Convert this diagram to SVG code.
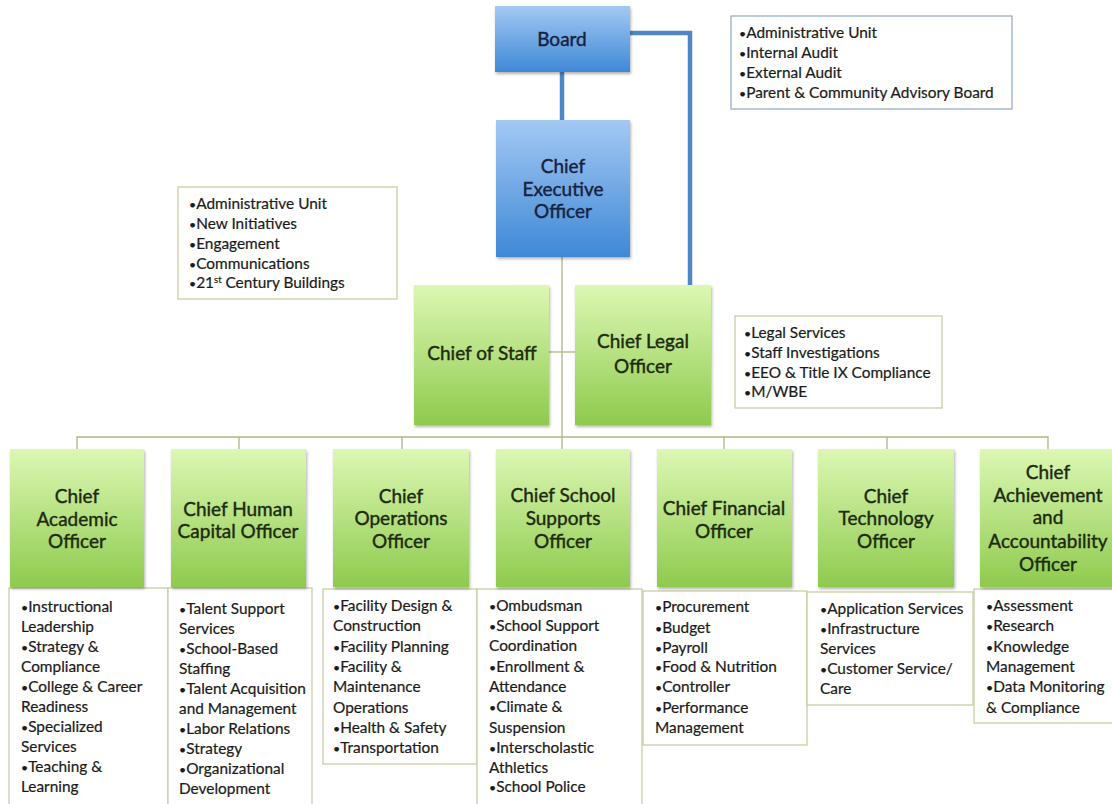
<svg xmlns="http://www.w3.org/2000/svg" width="1112" height="804" viewBox="0 0 1112 804">
  <defs>
    <linearGradient id="gBlue" x1="0" y1="0" x2="0" y2="1">
      <stop offset="0" stop-color="#a3c9f3"/>
      <stop offset="1" stop-color="#3f88d6"/>
    </linearGradient>
    <linearGradient id="gGreen" x1="0" y1="0" x2="0" y2="1">
      <stop offset="0" stop-color="#dcf8b4"/>
      <stop offset="1" stop-color="#8fca4e"/>
    </linearGradient>
    <filter id="shadow" x="-10%" y="-10%" width="125%" height="125%">
      <feDropShadow dx="1" dy="2" stdDeviation="1.5" flood-color="#000" flood-opacity="0.3"/>
    </filter>
    <style>
      .blue { fill: url(#gBlue); filter: url(#shadow); }
      .green { fill: url(#gGreen); filter: url(#shadow); }
      .title { font-family: Lato, "Liberation Sans", sans-serif; font-size: 19px; text-anchor: middle; stroke-width: 0.4; }
      .tb { fill: #16223e; stroke: #16223e; }
      .tg { fill: #1c2a0e; stroke: #1c2a0e; }
      .list { font-family: Lato, "Liberation Sans", sans-serif; font-size: 15.4px; fill: #1a1a1a; stroke: #1a1a1a; stroke-width: 0.2; }
      .note { font-family: Lato, "Liberation Sans", sans-serif; font-size: 15.4px; fill: #1a1a1a; stroke: #1a1a1a; stroke-width: 0.2; }
      .b { font-size: 0.8em; }
      .box { fill: #fff; stroke: #c3cb9f; stroke-width: 1.2; }
      .boxBlue { fill: #fff; stroke: #8ea7c2; stroke-width: 1.2; }
      .conn { fill: none; stroke: #aab882; stroke-width: 1.3; }
      .connBlue { fill: none; stroke: #4f86c6; stroke-width: 4.5; }
    </style>
  </defs>
  <rect width="1112" height="804" fill="#fff"/>

  <!-- connectors -->
  <g id="connectors">
    <path class="connBlue" d="M630,33 H690 V285"/>
    <path class="connBlue" d="M562,72 V120" stroke-width="3.5"/>
    <path class="conn" d="M562,257 V437"/>
    <path class="conn" d="M549,352 H575"/>
    <path class="conn" d="M77,449 V437 H1048 V449"/>
    <path class="conn" d="M239,437 V449 M402,437 V449 M562,437 V449 M724,437 V449 M887,437 V449"/>
  </g>

  <!-- top tier -->
  <g id="board">
    <rect class="blue" x="495" y="6" width="135" height="66"/>
    <text class="title tb" x="562" y="46">Board</text>
  </g>
  <g id="board-notes">
    <rect class="boxBlue" x="731" y="16" width="281" height="93"/>
    <text class="note" x="739" y="38"><tspan class="b">•</tspan>Administrative Unit</text>
    <text class="note" x="739" y="58"><tspan class="b">•</tspan>Internal Audit</text>
    <text class="note" x="739" y="78"><tspan class="b">•</tspan>External Audit</text>
    <text class="note" x="739" y="98"><tspan class="b">•</tspan>Parent &amp; Community Advisory Board</text>
  </g>
  <g id="ceo">
    <rect class="blue" x="496" y="120" width="134" height="137"/>
    <text class="title tb" x="563" y="173">Chief</text>
    <text class="title tb" x="563" y="196">Executive</text>
    <text class="title tb" x="563" y="218">Officer</text>
  </g>
  <g id="ceo-notes">
    <rect class="box" x="178" y="187" width="219" height="112"/>
    <text class="note" x="189" y="209"><tspan class="b">•</tspan>Administrative Unit</text>
    <text class="note" x="189" y="229"><tspan class="b">•</tspan>New Initiatives</text>
    <text class="note" x="189" y="249"><tspan class="b">•</tspan>Engagement</text>
    <text class="note" x="189" y="269"><tspan class="b">•</tspan>Communications</text>
    <text class="note" x="189" y="288"><tspan class="b">•</tspan>21<tspan font-size="9.5" dy="-5">st</tspan><tspan dy="5"> Century Buildings</tspan></text>
  </g>

  <!-- staff tier -->
  <g id="chief-of-staff">
    <rect class="green" x="414" y="285" width="135" height="140"/>
    <text class="title tg" x="482" y="360">Chief of Staff</text>
  </g>
  <g id="chief-legal">
    <rect class="green" x="575" y="285" width="136" height="140"/>
    <text class="title tg" x="643" y="348">Chief Legal</text>
    <text class="title tg" x="643" y="373">Officer</text>
  </g>
  <g id="legal-notes">
    <rect class="box" x="735" y="316" width="207" height="92"/>
    <text class="note" x="744" y="338"><tspan class="b">•</tspan>Legal Services</text>
    <text class="note" x="744" y="358"><tspan class="b">•</tspan>Staff Investigations</text>
    <text class="note" x="744" y="378"><tspan class="b">•</tspan>EEO &amp; Title IX Compliance</text>
    <text class="note" x="744" y="397"><tspan class="b">•</tspan>M/WBE</text>
  </g>

  <!-- department tier -->
  <g id="academic">
    <rect class="box" x="9" y="588" width="159" height="222"/>
    <rect class="green" x="10" y="449" width="134" height="138"/>
    <text class="title tg" x="77" y="503">Chief</text>
    <text class="title tg" x="77" y="526">Academic</text>
    <text class="title tg" x="77" y="548">Officer</text>
    <g class="list">
      <text x="21" y="612"><tspan class="b">•</tspan>Instructional</text>
      <text x="21" y="632">Leadership</text>
      <text x="21" y="652"><tspan class="b">•</tspan>Strategy &amp;</text>
      <text x="21" y="672">Compliance</text>
      <text x="21" y="692"><tspan class="b">•</tspan>College &amp; Career</text>
      <text x="21" y="712">Readiness</text>
      <text x="21" y="732"><tspan class="b">•</tspan>Specialized</text>
      <text x="21" y="752">Services</text>
      <text x="21" y="772"><tspan class="b">•</tspan>Teaching &amp;</text>
      <text x="21" y="792">Learning</text>
    </g>
  </g>

  <g id="human-capital">
    <rect class="box" x="168" y="588" width="144" height="222"/>
    <rect class="green" x="171" y="449" width="135" height="138"/>
    <text class="title tg" x="238" y="516">Chief Human</text>
    <text class="title tg" x="238" y="538">Capital Officer</text>
    <g class="list">
      <text x="179" y="614"><tspan class="b">•</tspan>Talent Support</text>
      <text x="179" y="634">Services</text>
      <text x="179" y="654"><tspan class="b">•</tspan>School-Based</text>
      <text x="179" y="674">Staffing</text>
      <text x="179" y="694"><tspan class="b">•</tspan>Talent Acquisition</text>
      <text x="179" y="714">and Management</text>
      <text x="179" y="734"><tspan class="b">•</tspan>Labor Relations</text>
      <text x="179" y="754"><tspan class="b">•</tspan>Strategy</text>
      <text x="179" y="774"><tspan class="b">•</tspan>Organizational</text>
      <text x="179" y="794">Development</text>
    </g>
  </g>

  <g id="operations">
    <rect class="box" x="323" y="589" width="154" height="175"/>
    <rect class="green" x="333" y="449" width="136" height="138"/>
    <text class="title tg" x="401" y="503">Chief</text>
    <text class="title tg" x="401" y="525">Operations</text>
    <text class="title tg" x="401" y="548">Officer</text>
    <g class="list">
      <text x="333" y="611"><tspan class="b">•</tspan>Facility Design &amp;</text>
      <text x="333" y="631">Construction</text>
      <text x="333" y="652"><tspan class="b">•</tspan>Facility Planning</text>
      <text x="333" y="672"><tspan class="b">•</tspan>Facility &amp;</text>
      <text x="333" y="692">Maintenance</text>
      <text x="333" y="713">Operations</text>
      <text x="333" y="733"><tspan class="b">•</tspan>Health &amp; Safety</text>
      <text x="333" y="753"><tspan class="b">•</tspan>Transportation</text>
    </g>
  </g>

  <g id="school-supports">
    <rect class="box" x="477" y="589" width="165" height="221"/>
    <rect class="green" x="496" y="449" width="134" height="138"/>
    <text class="title tg" x="563" y="502">Chief School</text>
    <text class="title tg" x="563" y="525">Supports</text>
    <text class="title tg" x="563" y="548">Officer</text>
    <g class="list">
      <text x="489" y="611"><tspan class="b">•</tspan>Ombudsman</text>
      <text x="489" y="631"><tspan class="b">•</tspan>School Support</text>
      <text x="489" y="651">Coordination</text>
      <text x="489" y="672"><tspan class="b">•</tspan>Enrollment &amp;</text>
      <text x="489" y="692">Attendance</text>
      <text x="489" y="712"><tspan class="b">•</tspan>Climate &amp;</text>
      <text x="489" y="733">Suspension</text>
      <text x="489" y="753"><tspan class="b">•</tspan>Interscholastic</text>
      <text x="489" y="773">Athletics</text>
      <text x="489" y="792"><tspan class="b">•</tspan>School Police</text>
    </g>
  </g>

  <g id="financial">
    <rect class="box" x="643" y="591" width="164" height="154"/>
    <rect class="green" x="657" y="449" width="135" height="138"/>
    <text class="title tg" x="724" y="515">Chief Financial</text>
    <text class="title tg" x="724" y="538">Officer</text>
    <g class="list">
      <text x="655" y="612"><tspan class="b">•</tspan>Procurement</text>
      <text x="655" y="633"><tspan class="b">•</tspan>Budget</text>
      <text x="655" y="653"><tspan class="b">•</tspan>Payroll</text>
      <text x="655" y="672"><tspan class="b">•</tspan>Food &amp; Nutrition</text>
      <text x="655" y="692"><tspan class="b">•</tspan>Controller</text>
      <text x="655" y="713"><tspan class="b">•</tspan>Performance</text>
      <text x="655" y="733">Management</text>
    </g>
  </g>

  <g id="technology">
    <rect class="box" x="807" y="592" width="166" height="113"/>
    <rect class="green" x="818" y="449" width="136" height="138"/>
    <text class="title tg" x="886" y="503">Chief</text>
    <text class="title tg" x="886" y="525">Technology</text>
    <text class="title tg" x="886" y="548">Officer</text>
    <g class="list">
      <text x="820" y="614"><tspan class="b">•</tspan>Application Services</text>
      <text x="820" y="634"><tspan class="b">•</tspan>Infrastructure</text>
      <text x="820" y="654">Services</text>
      <text x="820" y="674"><tspan class="b">•</tspan>Customer Service/</text>
      <text x="820" y="694">Care</text>
    </g>
  </g>

  <g id="achievement">
    <rect class="box" x="974" y="589" width="145" height="134"/>
    <rect class="green" x="980" y="449" width="136" height="138"/>
    <text class="title tg" x="1048" y="479">Chief</text>
    <text class="title tg" x="1048" y="502">Achievement</text>
    <text class="title tg" x="1048" y="524">and</text>
    <text class="title tg" x="1048" y="548">Accountability</text>
    <text class="title tg" x="1048" y="571">Officer</text>
    <g class="list">
      <text x="986" y="611"><tspan class="b">•</tspan>Assessment</text>
      <text x="986" y="631"><tspan class="b">•</tspan>Research</text>
      <text x="986" y="652"><tspan class="b">•</tspan>Knowledge</text>
      <text x="986" y="672">Management</text>
      <text x="986" y="692"><tspan class="b">•</tspan>Data Monitoring</text>
      <text x="986" y="713">&amp; Compliance</text>
    </g>
  </g>
</svg>
